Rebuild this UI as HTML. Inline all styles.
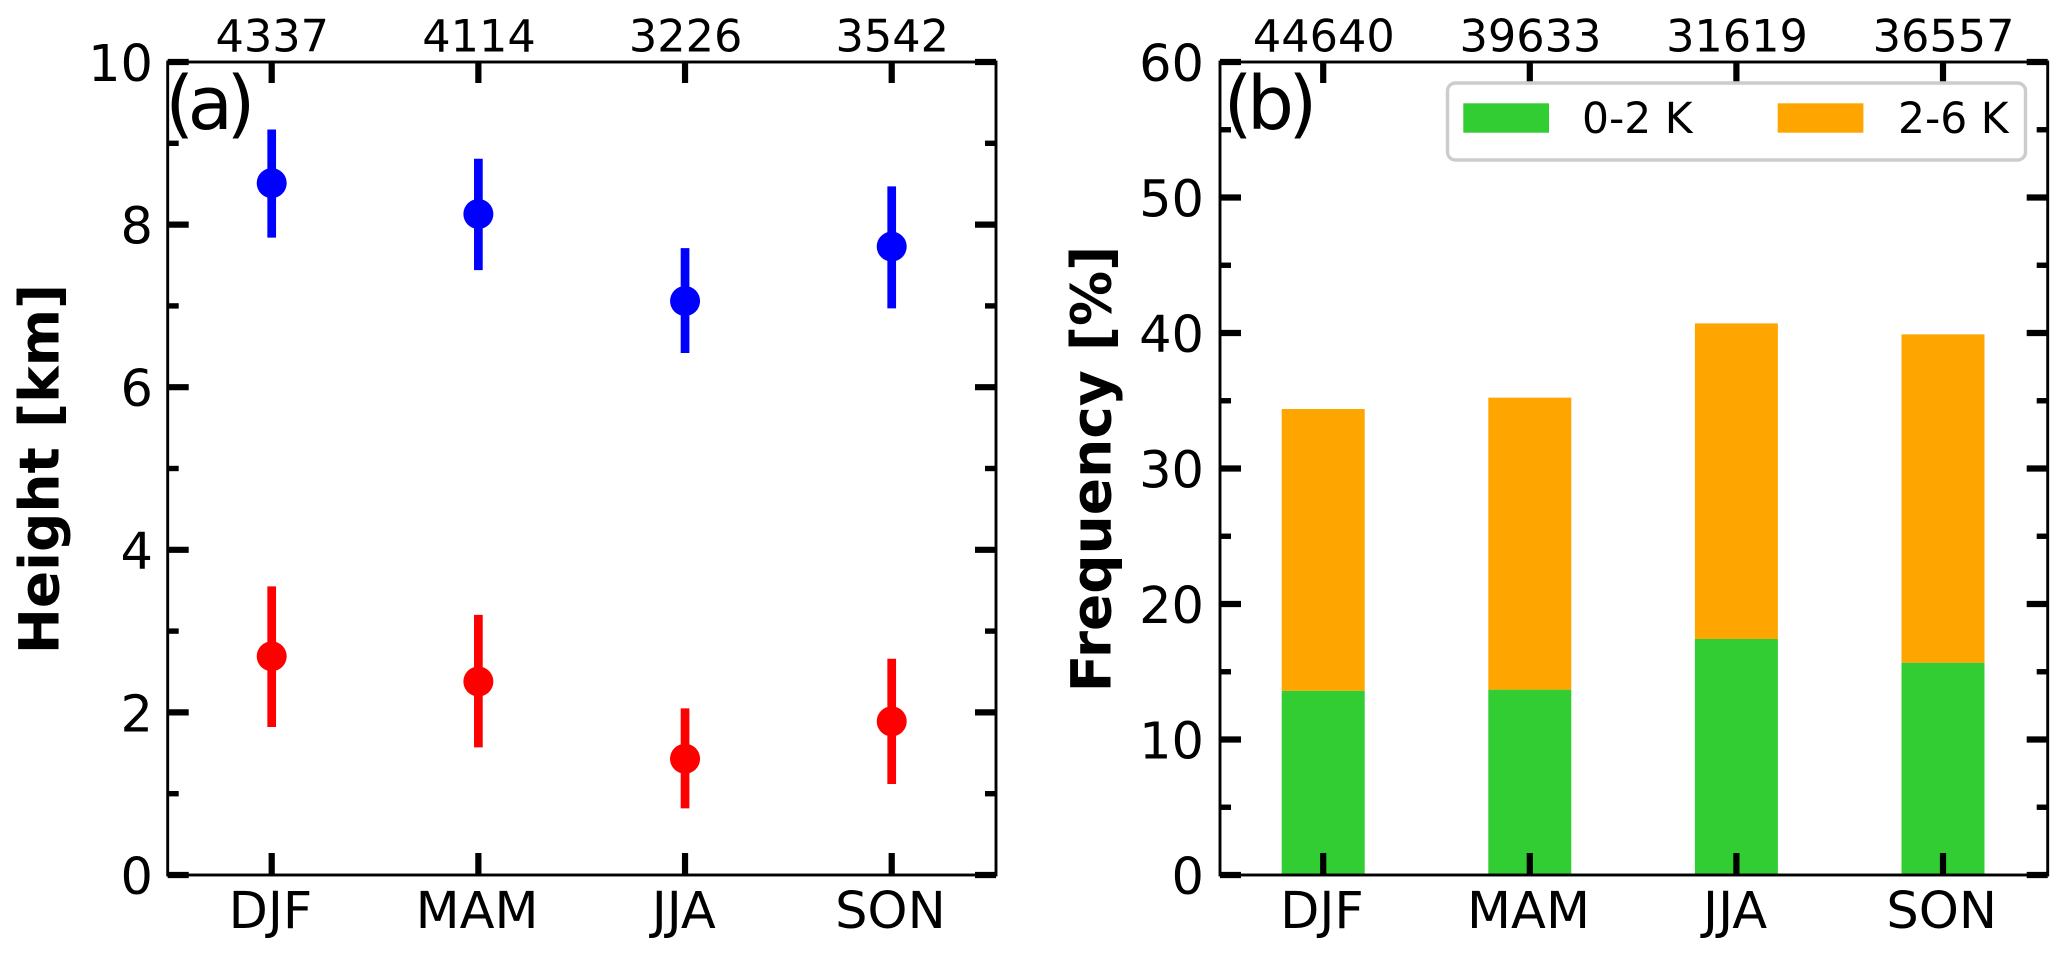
<!DOCTYPE html>
<html>
<head>
<meta charset="utf-8">
<title>Seasonal height and frequency</title>
<style>
html,body{margin:0;padding:0;background:#fff;width:2067px;height:958px;overflow:hidden}
svg{display:block}
text{font-family:"DejaVu Sans","Liberation Sans",sans-serif;fill:#000}
</style>
</head>
<body>
<svg id="chart" xmlns="http://www.w3.org/2000/svg" width="2067" height="958" viewBox="0 0 2067 958">
<rect width="2067" height="958" fill="#fff"/>
</svg>
<script>
const seasons = ['DJF', 'MAM', 'JJA', 'SON'];
const countsA = ['4337', '4114', '3226', '3542'];
const countsB = ['44640', '39633', '31619', '36557'];
const yTicksA = [0, 2, 4, 6, 8, 10];
const yMinorA = [1, 3, 5, 7, 9];
const yTicksB = [0, 10, 20, 30, 40, 50, 60];
const yMinorB = [5, 15, 25, 35, 45, 55];
const blueMean = [8.51, 8.13, 7.06, 7.73];
const blueUpper = [9.17, 8.81, 7.71, 8.47];
const blueLower = [7.84, 7.44, 6.42, 6.97];
const redMean = [2.69, 2.38, 1.43, 1.89];
const redUpper = [3.55, 3.20, 2.05, 2.66];
const redLower = [1.82, 1.57, 0.82, 1.12];
const coolFreq = [13.6, 13.68, 17.42, 15.67];
const warmFreq = [20.79, 21.55, 23.29, 24.23];
const legendLabels = ['0-2 K', '2-6 K'];

const NS = 'http://www.w3.org/2000/svg';
const svg = document.getElementById('chart');
const BLACK = '#000';

function make(tag, props, parent) {
  const el = document.createElementNS(NS, tag);
  for (const k in props) el.setAttribute(k, props[k]);
  (parent || svg).appendChild(el);
  return el;
}
function label(str, x, y, size, anchor, name, extra) {
  const el = make('text', Object.assign({x: x, y: y, 'font-size': size, 'text-anchor': anchor}, extra || {}));
  el.textContent = str;
  
  
  return el;
}
function seg(x1, y1, x2, y2, w, color, name) {
  const el = make('line', {x1: x1, y1: y1, x2: x2, y2: y2, stroke: color, 'stroke-width': w});
  
  
  return el;
}

const TOP = 62, BOTTOM = 875;
function yScale(maxV) {
  return function (v) { return BOTTOM - (v / maxV) * (BOTTOM - TOP); };
}
function xScale(first, step) {
  return function (i) { return first + step * i; };
}

function drawAxes(L, R, x, y, yTicks, yMinor, counts, tickEnd, panel) {
  yTicks.forEach(function (t) {
    seg(L, y(t), L + 21, y(t), 6.2, BLACK, panel + '-y-tick-left-' + t);
    seg(R - 21, y(t), R, y(t), 6.2, BLACK, panel + '-y-tick-right-' + t);
    label(String(t), tickEnd, y(t) + 19, 51, 'end', panel + '-y-tick-label-' + t);
  });
  yMinor.forEach(function (t) {
    seg(L, y(t), L + 11, y(t), 5.4, BLACK, panel + '-y-minor-tick-left-' + t);
    seg(R - 11, y(t), R, y(t), 5.4, BLACK, panel + '-y-minor-tick-right-' + t);
  });
  seasons.forEach(function (s, i) {
    seg(x(i), BOTTOM, x(i), BOTTOM - 22, 6.2, BLACK, panel + '-x-tick-bottom-' + s);
    seg(x(i), TOP, x(i), TOP + 21, 6.2, BLACK, panel + '-x-tick-top-' + s);
    label(s, x(i) - 1.3, 928, 51, 'middle', panel + '-x-tick-label-' + s);
    label(counts[i], x(i) + 0.6, 51.5, 44.6, 'middle', panel + '-sample-count-' + s);
  });
  const frame = make('rect', {x: L, y: TOP, width: R - L, height: BOTTOM - TOP, fill: 'none', stroke: BLACK, 'stroke-width': 2.9});
  
  
}

/* panel a */
const xA = xScale(271.7, 206.67);
const yA = yScale(10);
function drawErrSeries(mean, upper, lower, color, name) {
  seasons.forEach(function (s, i) {
    seg(xA(i), yA(upper[i]), xA(i), yA(lower[i]), 8.7, color, name + '-error-bar-' + s);
    const dot = make('circle', {cx: xA(i), cy: yA(mean[i]), r: 15, fill: color});
    
    
  });
}
drawErrSeries(blueMean, blueUpper, blueLower, '#0000ff', 'blue-series');
drawErrSeries(redMean, redUpper, redLower, '#ff0000', 'red-series');
drawAxes(167.7, 996, xA, yA, yTicksA, yMinorA, countsA, 153, 'panel-a');
label('(a)', 165.3, 129, 74, 'start', 'panel-a-label', {'letter-spacing': '-6.5'});
label('Height [km]', 0, 0, 55, 'middle', 'panel-a-y-axis-title', {'font-weight': 'bold', transform: 'translate(58.3 469) rotate(-90)'});

/* panel b */
const xB = xScale(1323.2, 206.6);
const yB = yScale(60);
const BAR_W = 83;
seasons.forEach(function (s, i) {
  const g = make('rect', {x: xB(i) - BAR_W / 2, y: yB(coolFreq[i]), width: BAR_W, height: yB(0) - yB(coolFreq[i]), fill: '#32cd32'});
  
  
  const top = coolFreq[i] + warmFreq[i];
  const o = make('rect', {x: xB(i) - BAR_W / 2, y: yB(top), width: BAR_W, height: yB(coolFreq[i]) - yB(top), fill: '#ffa500'});
  
  
});
drawAxes(1220, 2047.7, xB, yB, yTicksB, yMinorB, countsB, 1204, 'panel-b');
label('(b)', 1223.6, 129, 74, 'start', 'panel-b-label', {'letter-spacing': '-5.5'});
label('Frequency [%]', 0, 0, 55, 'middle', 'panel-b-y-axis-title', {'font-weight': 'bold', transform: 'translate(1110.7 469) rotate(-90)'});

/* legend */
const legendBox = make('rect', {x: 1447.5, y: 83, width: 578, height: 77, rx: 8, ry: 8, fill: '#fff', 'fill-opacity': 0.9, stroke: '#cccccc', 'stroke-width': 3.4});


const swatchGreen = make('rect', {x: 1463.3, y: 103.3, width: 85.7, height: 29.4, fill: '#32cd32'});


const swatchOrange = make('rect', {x: 1777.7, y: 103.3, width: 85.7, height: 29.4, fill: '#ffa500'});


label(legendLabels[0], 1582, 133, 42.4, 'start', 'legend-entry-0-2k');
label(legendLabels[1], 1898, 133, 42.4, 'start', 'legend-entry-2-6k');
</script>
</body>
</html>
